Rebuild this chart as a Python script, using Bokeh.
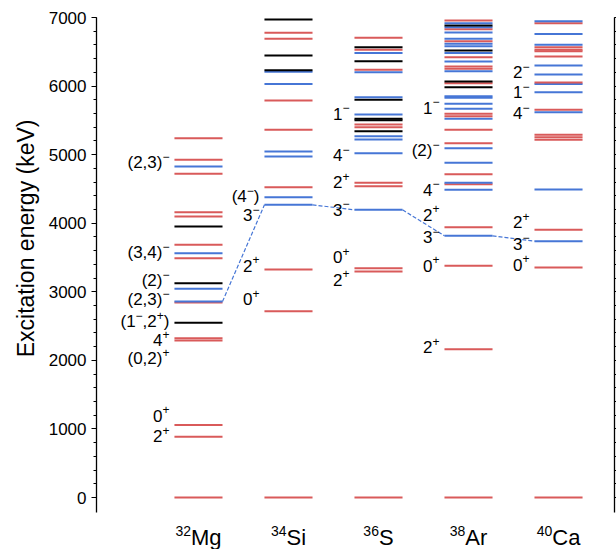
from bokeh.plotting import figure
from bokeh.models import Range1d, LinearAxis, FixedTicker, ColumnDataSource, CustomJSTickFormatter, Title
from bokeh.embed import file_html
from bokeh.resources import INLINE
from bokeh.core.properties import value

# Isotones shown side by side
mass_numbers = ["32", "34", "36", "38", "40"]
elements = ["Mg", "Si", "S", "Ar", "Ca"]

# Level energies (keV) and parity: "+" positive, "-" negative, "?" unassigned
mg32_E = [0, 885, 1058, 2290, 2321, 2547, 2845, 2858, 3043, 3125, 3490, 3563,
          3685, 3952, 4098, 4161, 4720, 4827, 4925, 5240]
mg32_P = ["+", "+", "+", "+", "+", "?", "+", "-", "-", "?", "+", "-",
          "+", "?", "+", "+", "+", "-", "+", "+"]

si34_E = [0, 2717, 3325, 4268, 4380, 4525, 4973, 5046, 5362, 5790, 6032, 6210,
          6230, 6446, 6689, 6776, 6971]
si34_P = ["+", "+", "+", "-", "-", "+", "-", "-", "+", "+", "-", "-",
          "?", "?", "+", "+", "?"]

s36_E = [0, 3296, 3344, 4195, 4540, 4589, 5021, 5221, 5270, 5343, 5401, 5440,
         5500, 5522, 5585, 5800, 5837, 6202, 6237, 6363, 6484, 6528, 6567, 6703]
s36_P = ["+", "+", "+", "-", "+", "+", "-", "-", "-", "?", "+", "+",
         "?", "?", "-", "?", "-", "-", "+", "?", "-", "+", "?", "+"]

ar38_E = [0, 2163, 3379, 3816, 3942, 4487, 4569, 4589, 4715, 4881, 5094, 5167,
          5362, 5522, 5561, 5595, 5668, 5741, 5828, 5852, 5984, 6042, 6067, 6217,
          6251, 6285, 6358, 6421, 6484, 6519, 6582, 6616, 6654, 6689, 6781, 6830,
          6859, 6883, 6917, 6956]
ar38_P = ["+", "+", "+", "-", "+", "-", "+", "-", "+", "-", "-", "+",
          "+", "-", "+", "+", "-", "-", "-", "-", "?", "+", "?", "-",
          "+", "+", "-", "+", "-", "?", "-", "-", "+", "-", "-", "+",
          "-", "?", "-", "+"]

ca40_E = [0, 3353, 3738, 3904, 4492, 5216, 5255, 5290, 5619, 5653, 5911, 6032,
          6052, 6169, 6300, 6431, 6508, 6528, 6567, 6601, 6761, 6917, 6946]
ca40_P = ["+", "+", "-", "+", "-", "+", "+", "+", "-", "+", "-", "-",
          "+", "-", "-", "+", "+", "+", "+", "-", "-", "+", "-"]

# Spin-parity labels ("^" marks a superscript character) and their energies
mg32_lab = ["2^+", "0^+", "(0,2)^+", "4^+", "(1^−,2^+)", "(2,3)^−", "(2)^−", "(3,4)^−", "(2,3)^−"]
mg32_labE = [890, 1196, 2030, 2295, 2570, 2890, 3170, 3575, 4880]
si34_lab = ["0^+", "2^+", "3^−", "(4^−)"]
si34_labE = [2890, 3383, 4113, 4385]
s36_lab = ["2^+", "0^+", "3^−", "2^+", "4^−", "1^−"]
s36_labE = [3179, 3504, 4195, 4594, 4988, 5596]
ar38_lab = ["2^+", "0^+", "3^−", "2^+", "4^−", "(2)^−", "1^−"]
ar38_labE = [2192, 3383, 3796, 4120, 4487, 5063, 5683]
ca40_lab = ["0^+", "3^−", "2^+", "4^−", "1^−", "2^−"]
ca40_labE = [3398, 3700, 4015, 5604, 5911, 6202]

# Index of the lowest 3- state in each level list (joined by a dashed line)
octupole_idx = [7, 3, 3, 3, 2]

levels = [mg32_E, si34_E, s36_E, ar38_E, ca40_E]
parities = [mg32_P, si34_P, s36_P, ar38_P, ca40_P]
labels = [mg32_lab, si34_lab, s36_lab, ar38_lab, ca40_lab]
label_E = [mg32_labE, si34_labE, s36_labE, ar38_labE, ca40_labE]

COLORS = {"+": "#d95a5a", "-": "#4676d6", "?": "#000000"}
HALF = 0.267
FONT_NAME = "Liberation Sans"
FONT = value(FONT_NAME)
LAB_SIZE, SUP_SIZE = 17, 12
NAME_SIZE, MASS_SIZE = 22, 14

# Advance widths (em) of Liberation Sans glyphs, used to lay out mixed-size text
ADV = {c: 0.556 for c in "0123456789"}
ADV.update({"(": 0.333, ")": 0.333, ",": 0.278, "+": 0.584, "−": 0.584,
            "M": 0.833, "g": 0.556, "S": 0.667, "i": 0.222, "A": 0.667,
            "r": 0.333, "C": 0.722, "a": 0.556})


def width(s, size):
    return sum(ADV.get(c, 0.556) for c in s) * size


def tokens(s):
    """Split 'a^b' markup into (text, is_superscript) runs."""
    out, i = [], 0
    while i < len(s):
        if s[i] == "^":
            out.append((s[i + 1], True))
            i += 2
        else:
            if out and not out[-1][1]:
                out[-1] = (out[-1][0] + s[i], False)
            else:
                out.append((s[i], False))
            i += 1
    return out


p = figure(width=616, height=549, output_backend="svg", toolbar_location=None,
           x_range=Range1d(-1.133, 4.622), y_range=Range1d(-758, 7000),
           x_axis_location=None, y_axis_location="left",
           min_border_left=96, min_border_right=2, min_border_top=17,
           min_border_bottom=0)
p.outline_line_color = None
p.grid.visible = False

# Level lines
x0, x1, y, col = [], [], [], []
for i, (E, P) in enumerate(zip(levels, parities)):
    for e, par in zip(E, P):
        x0.append(i - HALF)
        x1.append(i + HALF)
        y.append(e)
        col.append(COLORS[par])
p.segment(x0="x0", x1="x1", y0="y", y1="y", color="col", line_width=2,
          source=ColumnDataSource(dict(x0=x0, x1=x1, y=y, col=col)))

# Dashed connection of the 3- states
oct_E = [levels[i][k] for i, k in enumerate(octupole_idx)]
p.segment(x0=[i + HALF for i in range(4)], x1=[i + 1 - HALF for i in range(4)],
          y0=oct_E[:-1], y1=oct_E[1:], color="#4676d6", line_width=1.2,
          line_dash="4 2")

# Spin-parity labels, right-aligned against the level lines
runs = {False: dict(x=[], y=[], t=[], dx=[]), True: dict(x=[], y=[], t=[], dx=[])}
for i, (labs, le) in enumerate(zip(labels, label_E)):
    for lab, e in zip(labs, le):
        dx = -5.0
        for text, sup in reversed(tokens(lab)):
            r = runs[sup]
            r["x"].append(i - HALF)
            r["y"].append(e)
            r["t"].append(text)
            r["dx"].append(dx)
            dx -= width(text, SUP_SIZE if sup else LAB_SIZE)

p.text(x="x", y="y", text="t", x_offset="dx", source=ColumnDataSource(runs[False]),
       text_align="right", text_baseline="middle", text_font=FONT,
       text_font_size=f"{LAB_SIZE}px", text_color="black")
p.text(x="x", y="y", text="t", x_offset="dx", y_offset=-6,
       source=ColumnDataSource(runs[True]),
       text_align="right", text_baseline="middle", text_font=FONT,
       text_font_size=f"{SUP_SIZE}px", text_color="black")

# Nucleus names under the columns: mass number as a superscript
split = [width(m, MASS_SIZE) - (width(m, MASS_SIZE) + width(el, NAME_SIZE)) / 2
         for m, el in zip(mass_numbers, elements)]
xs = list(range(len(elements)))
p.text(x=xs, y=[-585] * len(xs), text=elements, x_offset=split,
       text_align="left", text_baseline="middle", text_font=FONT,
       text_font_size=f"{NAME_SIZE}px", text_color="black")
p.text(x=xs, y=[-495] * len(xs), text=mass_numbers, x_offset=split,
       text_align="right", text_baseline="middle", text_font=FONT,
       text_font_size=f"{MASS_SIZE}px", text_color="black")

ticker = FixedTicker(ticks=list(range(0, 7001, 1000)),
                     minor_ticks=list(range(0, 7001, 200)))
ax = p.yaxis[0]
ax.ticker = ticker
ax.bounds = (-220, 7000)
ax.major_label_text_font = FONT_NAME
ax.major_label_text_font_size = "17px"
ax.major_label_text_color = "black"
ax.major_label_standoff = 5
ax.major_tick_out = 5
ax.major_tick_in = 0
ax.minor_tick_out = 3
ax.minor_tick_in = 0
ax.axis_line_width = 1.3

# Axis title on the left, hung from the top of the scale
p.add_layout(Title(text="Excitation energy (keV)", align="right", offset=102,
                   standoff=14, text_font=FONT_NAME, text_font_size="23px",
                   text_font_style="normal", text_color="black"), "left")

right = LinearAxis(ticker=ticker, bounds=(-220, 7000),
                   formatter=CustomJSTickFormatter(code="return ''"),
                   major_label_text_font_size="0px", major_label_standoff=0,
                   major_tick_out=2, major_tick_in=0, minor_tick_out=2,
                   minor_tick_in=0, axis_line_width=1.3)
p.add_layout(right, "right")

open("out.html", "w").write(file_html(p, INLINE))
